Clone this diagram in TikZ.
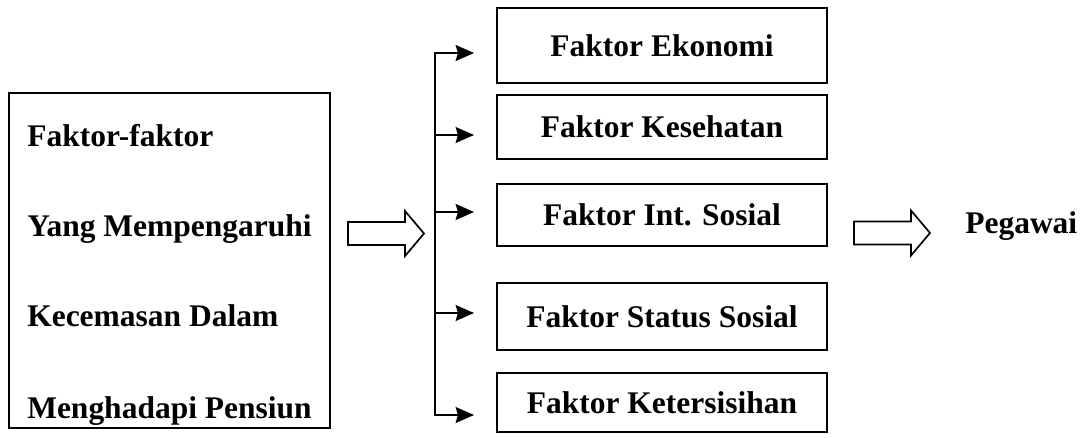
\documentclass[tikz,border=0pt]{standalone}
\usepackage{fontspec}
\setmainfont{Liberation Serif}
\usetikzlibrary{arrows.meta}

\begin{document}
\begin{tikzpicture}[x=0.25mm, y=-0.25mm,
    every node/.style={font=\fontsize{22.4pt}{26pt}\selectfont\bfseries},
    kotak/.style={draw, line width=1.2pt, minimum width=82.5mm, inner sep=0pt},
    panah/.style={line width=1.1pt, -{Stealth[length=4.6mm,width=4mm,inset=0.6mm]}},
    blok/.pic={\draw[line width=1.2pt, line join=miter] (0,-11.5) -- (57,-11.5) -- (57,-22.5) -- (76,0) -- (57,22.5) -- (57,11.5) -- (0,11.5) -- cycle;}]
    \useasboundingbox (0,0) rectangle (1092,437);
    % Kotak kiri
    \node[draw, line width=1.2pt, minimum width=80.25mm, minimum height=83.75mm] (kiri) at (169.5,260.5) {};
    \foreach \teks/\y [count=\i] in {Faktor-faktor/146, Yang Mempengaruhi/236, Kecemasan Dalam/326, Menghadapi Pensiun/418}
        \node[anchor=base west, inner sep=0pt] (baris\i) at (27,\y) {\teks};
    % Panah blok
    \pic at (348,233.5) {blok};
    \pic at (854,233) {blok};
    % Cabang
    \coordinate (atas) at (435,53);
    \coordinate (bawah) at (435,415);
    \draw[line width=1.1pt, line cap=rect] (atas) -- (bawah);
    \foreach \y [count=\i] in {53,135,212,313,415} {
        \coordinate (ujung\i) at (474,\y);
        \draw[panah] (atas |- ujung\i) -- (ujung\i);
    }
    % Kotak faktor
    \node[kotak, minimum height=18.75mm] (ekonomi) at (662,45.5) {Faktor Ekonomi};
    \node[kotak, minimum height=16mm] (kesehatan) at (662,127) {Faktor Kesehatan};
    \node[kotak, minimum height=15.5mm] (interaksi) at (662,215) {Faktor Int. Sosial};
    \node[kotak, minimum height=16.75mm] (status) at (662,316.5) {Faktor Status Sosial};
    \node[kotak, minimum height=14.75mm] (tersisih) at (662,402.5) {Faktor Ketersisihan};
    % Hasil
    \node[anchor=base west, inner sep=0pt] (pegawai) at (965,233) {Pegawai};
\end{tikzpicture}
\end{document}
